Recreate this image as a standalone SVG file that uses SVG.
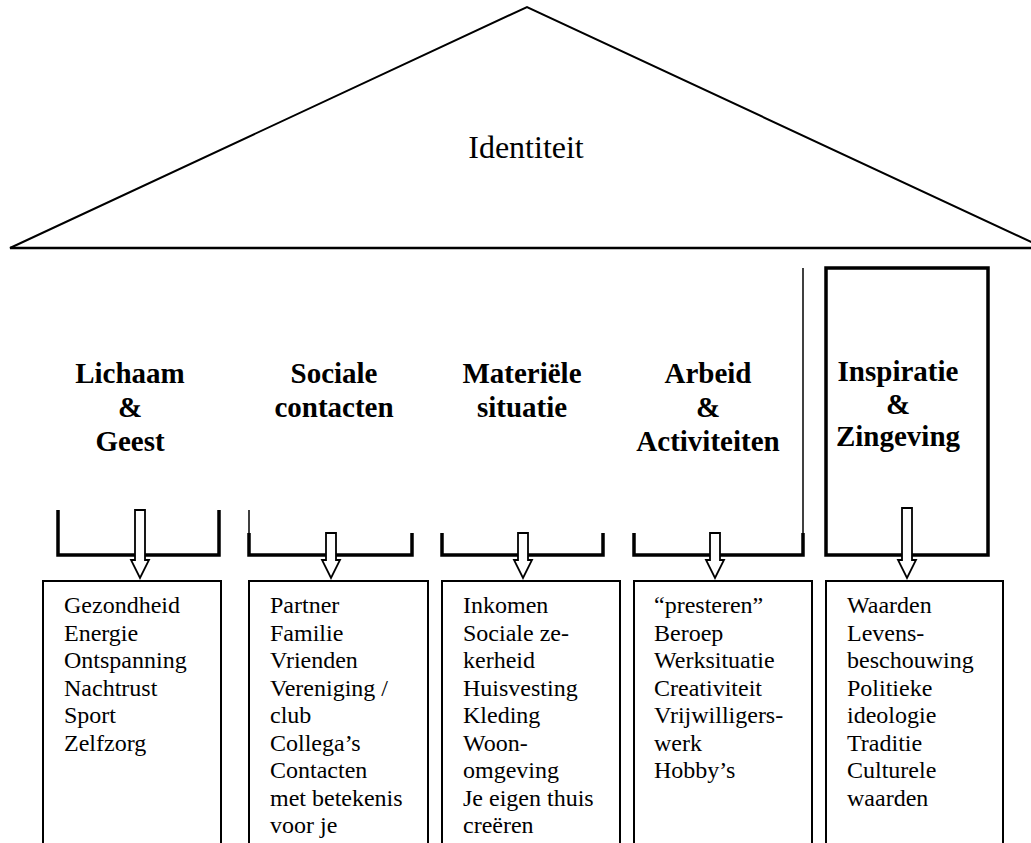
<svg xmlns="http://www.w3.org/2000/svg" width="1031" height="843" viewBox="0 0 1031 843" font-family="'Liberation Serif', 'Times New Roman', Tinos, 'DejaVu Serif', serif">
<style>
.roof{fill:#fff;stroke:#000;stroke-width:2}
.brk{fill:none;stroke:#000;stroke-width:3.5;stroke-linejoin:miter}
.thin{fill:none;stroke:#000;stroke-width:1.5}
.box{fill:#fff;stroke:#000;stroke-width:2}
.arr{fill:#fff;stroke:#000;stroke-width:1.8;stroke-linejoin:miter}
text{font-family:'Liberation Serif','Times New Roman',Tinos,'DejaVu Serif',serif;fill:#000}
.h{font-weight:bold;font-size:29px;text-anchor:middle}
.b{font-size:24px}
</style>
<rect width="1031" height="843" fill="#fff"/>
<g id="roof">
<polygon class="roof" points="10,248 527,7 1044,248"/>
<line x1="10" y1="248" x2="1044" y2="248" stroke="#000" stroke-width="2.5"/>
<text x="526" y="158" font-size="32" text-anchor="middle">Identiteit</text>
</g>
<g id="pillar1">
<text class="h" x="130" y="383">Lichaam</text>
<text class="h" x="130" y="417">&amp;</text>
<text class="h" x="130" y="451">Geest</text>
<path class="brk" d="M58,510 V555 H219 V510"/>
</g>
<g id="pillar2">
<text class="h" x="334" y="383">Sociale</text>
<text class="h" x="334" y="417">contacten</text>
<line class="thin" x1="249" y1="510" x2="249" y2="534"/>
<path class="brk" d="M249,533 V555 H412 V533"/>
</g>
<g id="pillar3">
<text class="h" x="522" y="383">Materiële</text>
<text class="h" x="522" y="417">situatie</text>
<path class="brk" d="M442,533 V555 H603 V533"/>
</g>
<g id="pillar4">
<text class="h" x="708" y="383">Arbeid</text>
<text class="h" x="708" y="417">&amp;</text>
<text class="h" x="708" y="451">Activiteiten</text>
<line class="thin" x1="803" y1="268" x2="803" y2="534"/>
<path class="brk" d="M634,533 V555 H803 V533"/>
</g>
<g id="pillar5">
<rect class="brk" x="826" y="268" width="162" height="287"/>
<text class="h" x="898" y="381">Inspiratie</text>
<text class="h" x="898" y="414">&amp;</text>
<text class="h" x="898" y="446">Zingeving</text>
</g>
<g id="connectors">
<path class="arr" d="M135,510 H145 V560 H149 L140,578 L131,560 H135 Z"/>
<path class="arr" d="M326,533 H336 V560 H340 L331,578 L322,560 H326 Z"/>
<path class="arr" d="M518,533 H528 V560 H532 L523,578 L514,560 H518 Z"/>
<path class="arr" d="M710,533 H720 V560 H724 L715,578 L706,560 H710 Z"/>
<path class="arr" d="M902,508 H912 V560 H916 L907,578 L898,560 H902 Z"/>
</g>
<g id="list1">
<rect class="box" x="43" y="581" width="178" height="280"/>
<text class="b"><tspan x="64" y="613">Gezondheid</tspan><tspan x="64" y="641">Energie</tspan><tspan x="64" y="668">Ontspanning</tspan><tspan x="64" y="696">Nachtrust</tspan><tspan x="64" y="723">Sport</tspan><tspan x="64" y="751">Zelfzorg</tspan></text>
</g>
<g id="list2">
<rect class="box" x="249" y="581" width="179" height="280"/>
<text class="b"><tspan x="270" y="613">Partner</tspan><tspan x="270" y="641">Familie</tspan><tspan x="270" y="668">Vrienden</tspan><tspan x="270" y="696">Vereniging /</tspan><tspan x="270" y="723">club</tspan><tspan x="270" y="751">Collega’s</tspan><tspan x="270" y="778">Contacten</tspan><tspan x="270" y="806">met betekenis</tspan><tspan x="270" y="833">voor je</tspan></text>
</g>
<g id="list3">
<rect class="box" x="442" y="581" width="178" height="280"/>
<text class="b"><tspan x="463" y="613">Inkomen</tspan><tspan x="463" y="641">Sociale ze-</tspan><tspan x="463" y="668">kerheid</tspan><tspan x="463" y="696">Huisvesting</tspan><tspan x="463" y="723">Kleding</tspan><tspan x="463" y="751">Woon-</tspan><tspan x="463" y="778">omgeving</tspan><tspan x="463" y="806">Je eigen thuis</tspan><tspan x="463" y="833">creëren</tspan></text>
</g>
<g id="list4">
<rect class="box" x="634" y="581" width="178" height="280"/>
<text class="b"><tspan x="654" y="613">“presteren”</tspan><tspan x="654" y="641">Beroep</tspan><tspan x="654" y="668">Werksituatie</tspan><tspan x="654" y="696">Creativiteit</tspan><tspan x="654" y="723">Vrijwilligers-</tspan><tspan x="654" y="751">werk</tspan><tspan x="654" y="778">Hobby’s</tspan></text>
</g>
<g id="list5">
<rect class="box" x="826" y="581" width="177" height="280"/>
<text class="b"><tspan x="847" y="613">Waarden</tspan><tspan x="847" y="641">Levens-</tspan><tspan x="847" y="668">beschouwing</tspan><tspan x="847" y="696">Politieke</tspan><tspan x="847" y="723">ideologie</tspan><tspan x="847" y="751">Traditie</tspan><tspan x="847" y="778">Culturele</tspan><tspan x="847" y="806">waarden</tspan></text>
</g>
</svg>
